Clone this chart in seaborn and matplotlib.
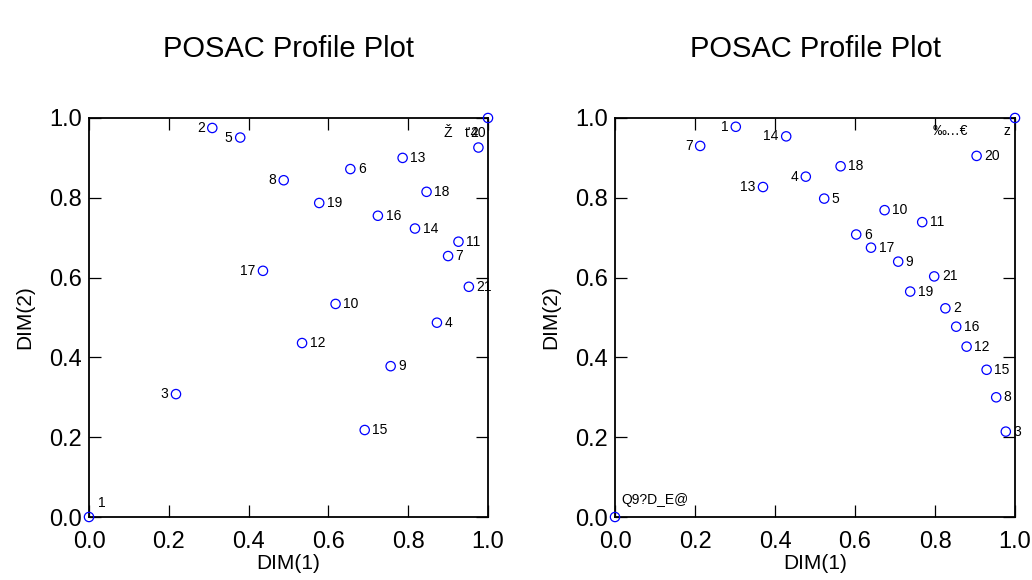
import matplotlib
matplotlib.use("Agg")
import matplotlib.pyplot as plt
import seaborn as sns
import pandas as pd

# ---- data ----
left_ids = ["1", "2", "3", "4", "5", "6", "7", "8", "9", "10", "11",
            "12", "13", "14", "15", "16", "17", "18", "19", "20", "21", ""]
left_x = [0.0, 0.309, 0.218, 0.872, 0.379, 0.655, 0.900, 0.488, 0.756, 0.618, 0.926,
          0.534, 0.786, 0.817, 0.691, 0.724, 0.436, 0.846, 0.577, 0.976, 0.952, 1.0]
left_y = [0.0, 0.975, 0.308, 0.487, 0.951, 0.872, 0.654, 0.844, 0.378, 0.534, 0.690,
          0.436, 0.900, 0.723, 0.218, 0.755, 0.617, 0.815, 0.787, 0.926, 0.577, 1.0]

right_ids = ["1", "2", "3", "4", "5", "6", "7", "8", "9", "10", "11",
             "12", "13", "14", "15", "16", "17", "18", "19", "20", "21", "", ""]
right_x = [0.302, 0.826, 0.977, 0.477, 0.523, 0.603, 0.213, 0.953, 0.708, 0.674, 0.768,
           0.879, 0.370, 0.428, 0.929, 0.853, 0.640, 0.564, 0.738, 0.904, 0.798, 0.0, 1.0]
right_y = [0.978, 0.523, 0.214, 0.853, 0.798, 0.708, 0.930, 0.300, 0.640, 0.769, 0.739,
           0.427, 0.827, 0.954, 0.369, 0.477, 0.675, 0.879, 0.565, 0.905, 0.603, 0.0, 1.0]

# extra (garbled) labels as in the original output
left_extra = [("Ž", 0.889, 0.962), ("t'4", 0.943, 0.962), ("20", 0.955, 0.962)]
right_extra = [("‰…€", 0.795, 0.967), ("z", 0.972, 0.967), ("Q9?D_E@", 0.017, 0.043)]

left_on_left = {"2", "5", "8", "17", "3"}
right_on_left = {"7", "1", "14", "13", "4"}
left_above = {"1", "20"}

title = "POSAC Profile Plot"
xlabel = "DIM(1)"
ylabel = "DIM(2)"
ticks = [0.0, 0.2, 0.4, 0.6, 0.8, 1.0]
tick_labels = ["0.0", "0.2", "0.4", "0.6", "0.8", "1.0"]

# ---- style ----
sns.set_theme(style="white")
plt.rcParams["font.family"] = ["Liberation Sans", "DejaVu Sans"]

fig = plt.figure(figsize=(10.32, 5.8), dpi=100)
ax1 = fig.add_axes([89 / 1032, 1 - 517 / 580, 399 / 1032, 399 / 580])
ax2 = fig.add_axes([615 / 1032, 1 - 517 / 580, 400 / 1032, 399 / 580])


def draw(ax, ids, xs, ys, on_left, above, extras):
    df = pd.DataFrame({"x": xs, "y": ys, "id": ids})
    sns.scatterplot(data=df, x="x", y="y", ax=ax, marker="o", s=45,
                    facecolors="none", edgecolor="#0000ff", linewidth=0.9,
                    clip_on=False, zorder=3)
    for lab, xv, yv in zip(ids, xs, ys):
        if not lab or lab in above:
            continue
        if lab in on_left:
            ax.annotate(lab, (xv, yv), xytext=(-5.5, 0), textcoords="offset points",
                        ha="right", va="center", fontsize=10, color="black")
        else:
            ax.annotate(lab, (xv, yv), xytext=(5.5, 0), textcoords="offset points",
                        ha="left", va="center", fontsize=10, color="black")
    for lab, xv, yv in zip(ids, xs, ys):
        if lab == "1" and lab in above:
            ax.annotate(lab, (xv, yv), xytext=(6.5, 10), textcoords="offset points",
                        ha="left", va="center", fontsize=10, color="black")
    for txt, xv, yv in extras:
        ax.text(xv, yv, txt, ha="left", va="center", fontsize=10, color="black")

    ax.set_xlim(0, 1)
    ax.set_ylim(0, 1)
    ax.set_xticks(ticks)
    ax.set_xticklabels(tick_labels)
    ax.set_yticks(ticks)
    ax.set_yticklabels(tick_labels)
    ax.tick_params(direction="in", length=8.5, width=0.9, color="black",
                   top=True, right=True, bottom=True, left=True,
                   labelsize=17, labelcolor="black")
    ax.tick_params(axis="x", pad=10)
    ax.tick_params(axis="y", pad=5)
    for sp in ax.spines.values():
        sp.set_color("black")
        sp.set_linewidth(1.3)
        sp.set_visible(True)
    ax.set_xlabel(xlabel, fontsize=15, color="black", labelpad=1)
    ax.set_ylabel(ylabel, fontsize=15, color="black", labelpad=11)
    ax.set_title(title, fontsize=21, color="black", pad=44)
    ax.set_facecolor("white")


draw(ax1, left_ids, left_x, left_y, left_on_left, left_above, left_extra)
draw(ax2, right_ids, right_x, right_y, right_on_left, set(), right_extra)

fig.savefig("out.png", dpi=100, facecolor="white")
